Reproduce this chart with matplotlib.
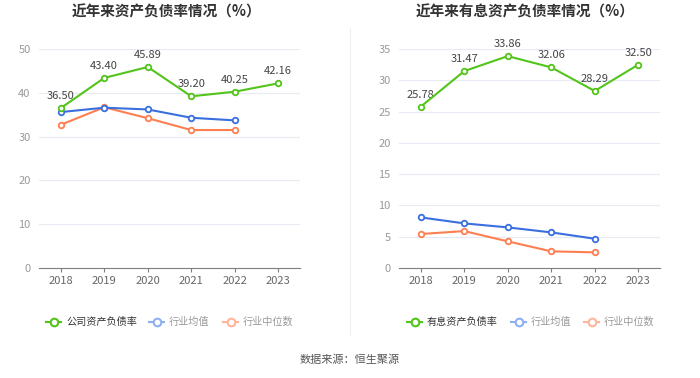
import matplotlib
matplotlib.use("Agg")
import matplotlib.pyplot as plt
from matplotlib.lines import Line2D

plt.rcParams['font.family'] = ['Noto Sans CJK SC', 'DejaVu Sans']

years = ["2018", "2019", "2020", "2021", "2022", "2023"]
left_company = [36.50, 43.40, 45.89, 39.20, 40.25, 42.16]
left_avg = [35.6, 36.6, 36.2, 34.3, 33.7]
left_median = [32.7, 36.7, 34.2, 31.5, 31.5]
right_company = [25.78, 31.47, 33.86, 32.06, 28.29, 32.50]
right_avg = [8.09, 7.13, 6.49, 5.69, 4.68]
right_median = [5.43, 5.9, 4.26, 2.66, 2.5]

titles = ["近年来资产负债率情况（%）", "近年来有息资产负债率情况（%）"]
legend_first = ["公司资产负债率", "有息资产负债率"]
legend_rest = ["行业均值", "行业中位数"]
source = "数据来源：恒生聚源"

GREEN = "#52c41a"
BLUE = "#3a6fe0"
ORANGE = "#ff7f50"
BLUE_L = "#8fb0f0"
ORANGE_L = "#ffb59a"

fig = plt.figure(figsize=(7, 3.78), dpi=100)
W, H = 700, 378

def ax_rect(x0, x1, y0, y1):
    return [x0 / W, 1 - y1 / H, (x1 - x0) / W, (y1 - y0) / H]

axes = [fig.add_axes(ax_rect(39, 300, 49, 268)), fig.add_axes(ax_rect(399, 660, 49, 268))]
datasets = [(left_company, left_avg, left_median, 50, 10),
            (right_company, right_avg, right_median, 35, 5)]

for ax, (comp, avg, med, ymax, step) in zip(axes, datasets):
    x = list(range(len(years)))
    ax.set_xlim(-0.5, len(years) - 0.5)
    ax.set_ylim(0, ymax)
    ax.set_yticks(list(range(0, ymax + 1, step)))
    ax.set_xticks(x)
    ax.set_xticklabels(years)
    ax.grid(axis='y', color='#e6eaf2', linewidth=0.8)
    ax.set_axisbelow(True)
    for s in ['top', 'right', 'left']:
        ax.spines[s].set_visible(False)
    ax.spines['bottom'].set_color('#7f7f7f')
    ax.tick_params(axis='y', length=0, labelsize=8, labelcolor='#999999', pad=6)
    ax.tick_params(axis='x', length=3, color='#7f7f7f', labelsize=8, labelcolor='#666666', pad=3)
    mk = dict(marker='o', markersize=4, markerfacecolor='white', markeredgewidth=1.3)
    ax.plot(x, comp, color=GREEN, lw=1.5, markeredgecolor=GREEN, zorder=5, **mk)
    ax.plot(x[:len(avg)], avg, color=BLUE, lw=1.5, markeredgecolor=BLUE, zorder=4, **mk)
    ax.plot(x[:len(med)], med, color=ORANGE, lw=1.5, markeredgecolor=ORANGE, zorder=3, **mk)
    for xi, v in zip(x, comp):
        ax.annotate(f"{v:.2f}", (xi, v), xytext=(0, 5), textcoords='offset points',
                    ha='center', va='bottom', fontsize=8, color='#444444')

fig.text(166 / W, 1 - 12 / H, titles[0], ha='center', va='center', fontsize=10.5, fontweight='bold', color='#333333')
fig.text(525 / W, 1 - 12 / H, titles[1], ha='center', va='center', fontsize=10.5, fontweight='bold', color='#333333')

# divider
fig.add_artist(Line2D([350 / W, 350 / W], [1 - 28 / H, 1 - 335 / H], color='#eeeeee', lw=0.8))

def legend_item(xs, label, color, tcolor):
    y = 1 - 322 / H
    fig.add_artist(Line2D([xs / W, (xs + 15) / W], [y, y], color=color, lw=1.5))
    fig.add_artist(Line2D([(xs + 7.5) / W], [y], color=color, marker='o', markersize=5.5,
                          markerfacecolor='white', markeredgewidth=1.5, lw=0))
    fig.text((xs + 20) / W, y, label, ha='left', va='center', fontsize=7.3, color=tcolor)

for (g, b, o), first in zip([(46, 149, 223), (407, 511, 584)], legend_first):
    legend_item(g, first, GREEN, '#333333')
    legend_item(b, legend_rest[0], BLUE_L, '#999999')
    legend_item(o, legend_rest[1], ORANGE_L, '#999999')

fig.text(350 / W, 1 - 360 / H, source, ha='center', va='center', fontsize=8, color='#555555')

fig.savefig("out.png", dpi=100)
